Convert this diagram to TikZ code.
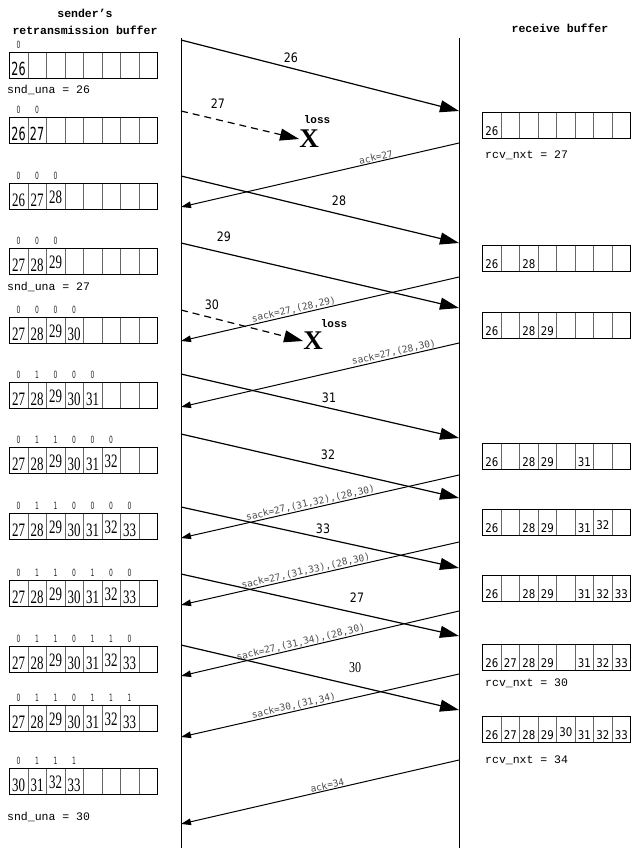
\documentclass[tikz,border=0pt]{standalone}
\usepackage{fontspec}
\setmainfont{Liberation Serif}
\newfontfamily\monof{Liberation Mono}
\newfontfamily\cellserif[FakeStretch=0.68]{Liberation Serif}
\newfontfamily\cellsans[FakeStretch=0.85]{DejaVu Sans}
\newfontfamily\bigsans[FakeStretch=0.62]{DejaVu Sans}
\newfontfamily\flagfont[FakeStretch=0.6]{DejaVu Sans}
\newfontfamily\labserif[FakeStretch=0.8]{Liberation Serif}
\newfontfamily\ackfont{DejaVu Sans Mono}
\usetikzlibrary{arrows.meta}

\newcommand\up[1]{\raisebox{3pt}{#1}}

% #1 prefix, #2 x, #3 ytop, #4 text style, #5 contents (8 entries)
\newcommand\bufrow[5]{%
  \foreach \v [count=\i] in {#5} {
    \node[cell] (#1-\i) at ({#2+(\i-1)*18.5},#3) {};
    \node[#4] at ([yshift=3.5pt]#1-\i.south) {\v};
  }
  \draw[line width=0.9pt] (#1-1.north west) rectangle (#1-8.south east);
}
\newcommand\flagrow[2]{%
  \foreach \f [count=\i] in {#2} {\node[flag] at ([yshift=3.5pt]#1-\i.north) {\f};}
}

\begin{document}
\begin{tikzpicture}[x=1pt, y=-1pt,
  cell/.style={draw=black!60, line width=0.6pt, minimum width=18.5pt, minimum height=26.5pt,
    inner sep=0pt, outer sep=0pt, anchor=north west},
  sernum/.style={font=\cellserif\fontsize{19}{19}\selectfont, anchor=base, inner sep=0pt},
  bignum/.style={font=\bigsans\fontsize{18}{18}\selectfont, anchor=base, inner sep=0pt},
  rcvnum/.style={font=\cellsans\fontsize{12}{12}\selectfont, anchor=base, inner sep=0pt},
  flag/.style={font=\flagfont\fontsize{10}{10}\selectfont, text=black!85, anchor=base, inner sep=0pt},
  mono/.style={font=\monof\fontsize{11.5}{12}\selectfont, anchor=west, inner sep=0pt},
  ttl/.style={font=\monof\bfseries\fontsize{11.5}{16.5}\selectfont, align=center, inner sep=0pt},
  datalab/.style={font=\cellsans\fontsize{13}{13}\selectfont, inner sep=0pt},
  serlab/.style={font=\labserif\fontsize{15}{15}\selectfont, inner sep=0pt},
  acklab/.style={font=\ackfont\fontsize{9.5}{9.5}\selectfont, text=black!70, sloped, anchor=south, inner sep=0.6pt},
  losslab/.style={font=\monof\bfseries\fontsize{11}{11}\selectfont, inner sep=0pt},
  bigx/.style={font=\bfseries\fontsize{27}{27}\selectfont, inner sep=0pt},
  timeline/.style={line width=0.8pt},
  dataline/.style={line width=1.2pt, -{Triangle[length=19pt,width=12pt]}},
  lostline/.style={dataline, dash pattern=on 7pt off 5pt},
  ackline/.style={line width=1pt, {Triangle[length=10pt,width=6.5pt]}-}
]
\useasboundingbox (0,0) rectangle (632,852);

% titles
\node[ttl] (stitle) at (85,22) {sender’s\\retransmission buffer};
\node[ttl] (rtitle) at (560,28) {receive buffer};

% timelines
\coordinate (Ltop) at (181,38); \coordinate (Lbot) at (181,848);
\coordinate (Rtop) at (459,38); \coordinate (Rbot) at (459,848);
\draw[timeline] (Ltop) -- (Lbot);
\draw[timeline] (Rtop) -- (Rbot);

% sender buffers
\bufrow{s1}{9.3}{52}{bignum}{26,{},{},{},{},{},{},{}}
\flagrow{s1}{0}
\bufrow{s2}{9.3}{117}{bignum}{26,27,{},{},{},{},{},{}}
\flagrow{s2}{0,0}
\bufrow{s3}{9.3}{183}{sernum}{26,27,\up{28},{},{},{},{},{}}
\flagrow{s3}{0,0,0}
\bufrow{s4}{9.3}{248}{sernum}{27,28,\up{29},{},{},{},{},{}}
\flagrow{s4}{0,0,0}
\bufrow{s5}{9.3}{317}{sernum}{27,28,\up{29},30,{},{},{},{}}
\flagrow{s5}{0,0,0,0}
\bufrow{s6}{9.3}{382}{sernum}{27,28,\up{29},30,31,{},{},{}}
\flagrow{s6}{0,1,0,0,0}
\bufrow{s7}{9.3}{447}{sernum}{27,28,\up{29},30,31,\up{32},{},{}}
\flagrow{s7}{0,1,1,0,0,0}
\bufrow{s8}{9.3}{513}{sernum}{27,28,\up{29},30,31,\up{32},33,{}}
\flagrow{s8}{0,1,1,0,0,0,0}
\bufrow{s9}{9.3}{580}{sernum}{27,28,\up{29},30,31,\up{32},33,{}}
\flagrow{s9}{0,1,1,0,1,0,0}
\bufrow{s10}{9.3}{646}{sernum}{27,28,\up{29},30,31,\up{32},33,{}}
\flagrow{s10}{0,1,1,0,1,1,0}
\bufrow{s11}{9.3}{705}{sernum}{27,28,\up{29},30,31,\up{32},33,{}}
\flagrow{s11}{0,1,1,0,1,1,1}
\bufrow{s12}{9.3}{768}{sernum}{30,31,\up{32},33,{},{},{},{}}
\flagrow{s12}{0,1,1,1}

\node[mono] (una1) at (7,90) {snd\_una = 26};
\node[mono] (una2) at (7,287) {snd\_una = 27};
\node[mono] (una3) at (7,817) {snd\_una = 30};

% receive buffers
\bufrow{r1}{482.5}{112}{rcvnum}{26,{},{},{},{},{},{},{}}
\bufrow{r2}{482.5}{245}{rcvnum}{26,{},28,{},{},{},{},{}}
\bufrow{r3}{482.5}{312}{rcvnum}{26,{},28,29,{},{},{},{}}
\bufrow{r4}{482.5}{443}{rcvnum}{26,{},28,29,{},31,{},{}}
\bufrow{r5}{482.5}{509}{rcvnum}{26,{},28,29,{},31,\up{32},{}}
\bufrow{r6}{482.5}{575}{rcvnum}{26,{},28,29,{},31,32,33}
\bufrow{r7}{482.5}{644}{rcvnum}{26,27,28,29,{},31,32,33}
\bufrow{r8}{482.5}{716}{rcvnum}{26,27,28,29,\up{30},31,32,33}

\node[mono] (nxt1) at (485,155) {rcv\_nxt = 27};
\node[mono] (nxt2) at (485,683) {rcv\_nxt = 30};
\node[mono] (nxt3) at (485,760) {rcv\_nxt = 34};

% loss markers
\node[losslab] (loss1) at (317,120) {loss};
\node[bigx] (X1) at (309,139) {X};
\node[losslab] (loss2) at (334,324) {loss};
\node[bigx] (X2) at (313,341) {X};

% data segments
\coordinate (d26s) at (181,40);  \coordinate (d26e) at (459,111);
\coordinate (d27s) at (181,111);
\coordinate (d28s) at (181,176); \coordinate (d28e) at (459,243);
\coordinate (d29s) at (181,243); \coordinate (d29e) at (459,308);
\coordinate (d30s) at (181,310);
\coordinate (d31s) at (181,374); \coordinate (d31e) at (459,438);
\coordinate (d32s) at (181,434); \coordinate (d32e) at (459,498);
\coordinate (d33s) at (181,507); \coordinate (d33e) at (459,568);
\coordinate (r27s) at (181,574); \coordinate (r27e) at (459,636);
\coordinate (r30s) at (181,645); \coordinate (r30e) at (459,710);

\draw[dataline] (d26s) -- (d26e);
\draw[lostline] (d27s) -- (X1.west);
\draw[dataline] (d28s) -- (d28e);
\draw[dataline] (d29s) -- (d29e);
\draw[lostline] (d30s) -- (X2.west);
\draw[dataline] (d31s) -- (d31e);
\draw[dataline] (d32s) -- (d32e);
\draw[dataline] (d33s) -- (d33e);
\draw[dataline] (r27s) -- (r27e);
\draw[dataline] (r30s) -- (r30e);

\node[datalab] (l26) at (291,58) {26};
\node[datalab] (l27) at (218,104) {27};
\node[datalab] (l28) at (339,201) {28};
\node[datalab] (l29) at (224,237) {29};
\node[datalab] (l30) at (212,305) {30};
\node[datalab] (l31) at (329,398) {31};
\node[datalab] (l32) at (328,455) {32};
\node[datalab] (l33) at (323,529) {33};
\node[datalab] (l27r) at (357,598) {27};
\node[serlab] (l30r) at (355,668) {30};

% acknowledgements (drawn left end -> right start, tip at left)
\coordinate (a1r) at (459,143); \coordinate (a1l) at (181,207);
\coordinate (a2r) at (459,277); \coordinate (a2l) at (181,341);
\coordinate (a3r) at (459,343); \coordinate (a3l) at (181,407);
\coordinate (a4r) at (459,475); \coordinate (a4l) at (181,538);
\coordinate (a5r) at (459,542); \coordinate (a5l) at (181,605);
\coordinate (a6r) at (459,611); \coordinate (a6l) at (181,676);
\coordinate (a7r) at (459,674); \coordinate (a7l) at (181,737);
\coordinate (a8r) at (459,760); \coordinate (a8l) at (181,824);

\draw[ackline] (a1l) -- node[acklab,pos=0.705] {ack=27} (a1r);
\draw[ackline] (a2l) -- node[acklab,pos=0.41] {sack=27,(28,29)} (a2r);
\draw[ackline] (a3l) -- node[acklab,pos=0.77] {sack=27,(28,30)} (a3r);
\draw[ackline] (a4l) -- node[acklab,pos=0.47] {sack=27,(31,32),(28,30)} (a4r);
\draw[ackline] (a5l) -- node[acklab,pos=0.453] {sack=27,(31,33),(28,30)} (a5r);
\draw[ackline] (a6l) -- node[acklab,pos=0.435] {sack=27,(31,34),(28,30)} (a6r);
\draw[ackline] (a7l) -- node[acklab,pos=0.41] {sack=30,(31,34)} (a7r);
\draw[ackline] (a8l) -- node[acklab,pos=0.53] {ack=34} (a8r);
\end{tikzpicture}
\end{document}
